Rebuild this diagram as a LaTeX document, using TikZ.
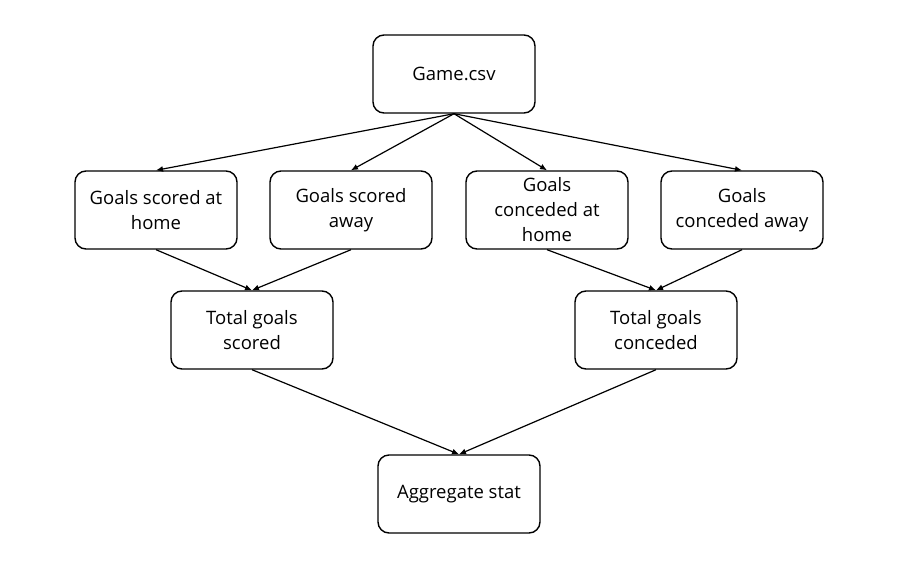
\documentclass[tikz,border=0pt]{standalone}
\usepackage{fontspec}
\setmainfont{Open Sans}
\usetikzlibrary{arrows.meta}
\begin{document}
\begin{tikzpicture}[x=1pt,y=-1pt,
  box/.style={draw=black, line width=1.4pt, rounded corners=11pt, fill=white,
    minimum width=162pt, minimum height=78pt, align=center,
    font=\fontsize{18.5}{25}\selectfont, inner sep=2pt},
  conn/.style={line width=1.2pt, -{Latex[length=7pt,width=6pt]}}]
\useasboundingbox (0,0) rectangle (908,563);
\fill[white] (0,0) rectangle (908,563);
\node[box] (game) at (454,74) {Game.csv};
\node[box] (sh) at (156,210) {Goals scored at\\home};
\node[box] (sa) at (351,210) {Goals scored\\away};
\node[box] (ch) at (547,210) {Goals\\conceded at\\home};
\node[box] (ca) at (742,210) {Goals\\conceded away};
\node[box] (ts) at (252,330) {Total goals\\scored};
\node[box] (tc) at (656,330) {Total goals\\conceded};
\node[box] (agg) at (459,494) {Aggregate stat};
\draw[conn] (game.south) -- (sh.north);
\draw[conn] (game.south) -- (sa.north);
\draw[conn] (game.south) -- (ch.north);
\draw[conn] (game.south) -- (ca.north);
\draw[conn] (sh.south) -- (ts.north);
\draw[conn] (sa.south) -- (ts.north);
\draw[conn] (ch.south) -- (tc.north);
\draw[conn] (ca.south) -- (tc.north);
\draw[conn] (ts.south) -- (agg.north);
\draw[conn] (tc.south) -- (agg.north);
\end{tikzpicture}
\end{document}
